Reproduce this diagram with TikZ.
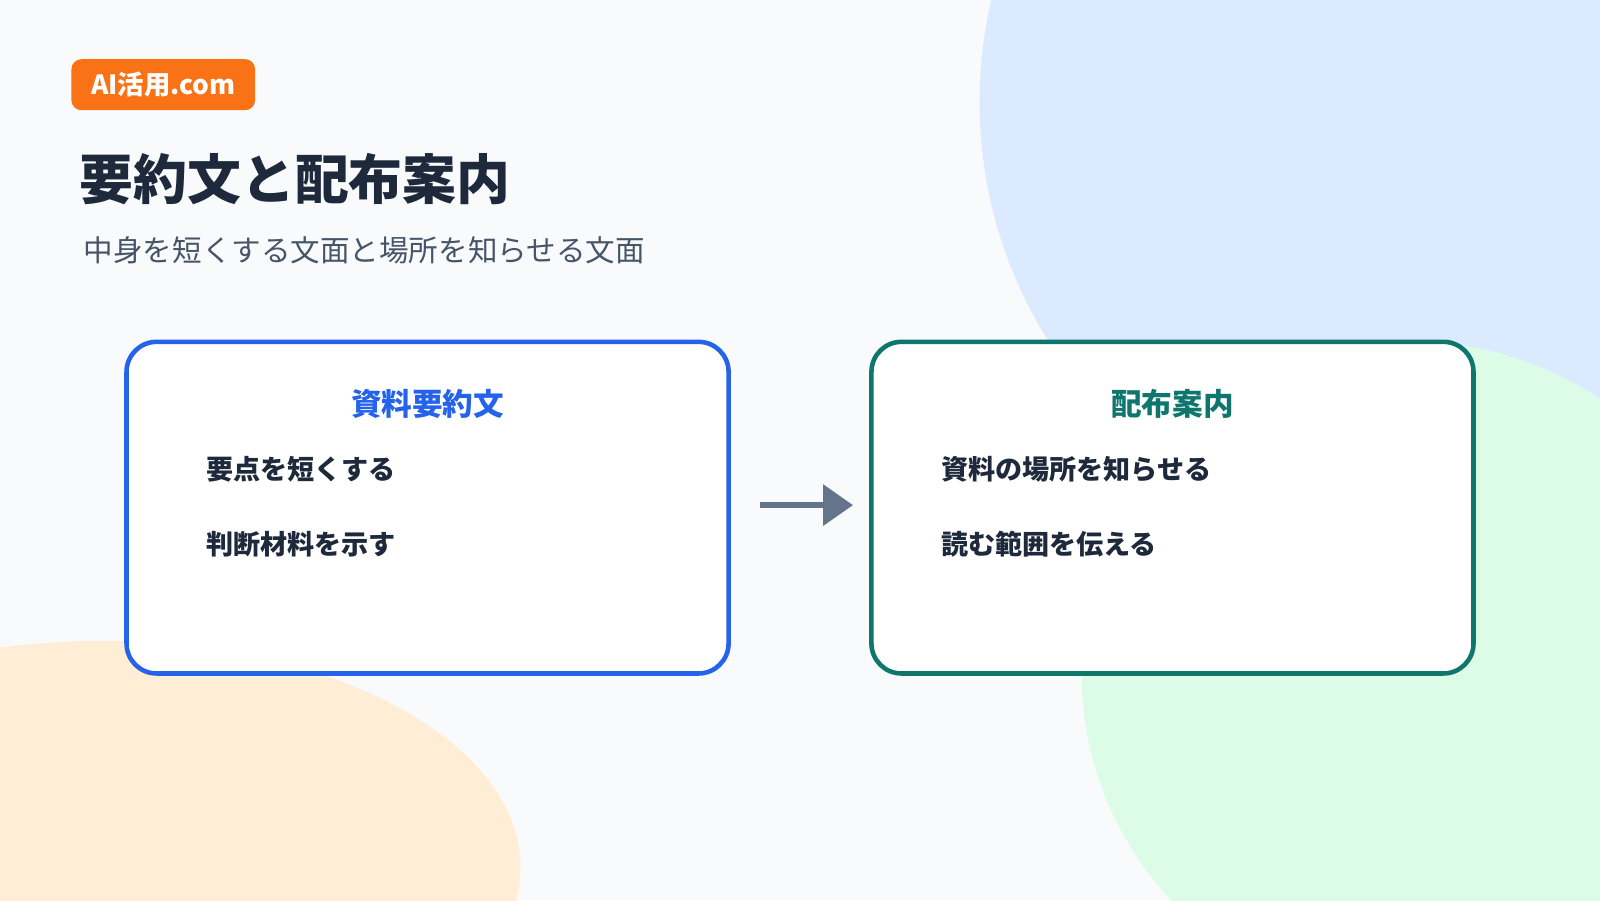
\documentclass[tikz,border=0pt]{standalone}
\usepackage{fontspec}
\setmainfont{Noto Sans CJK JP}
\usepackage{xcolor}
\usetikzlibrary{arrows.meta,positioning}
\definecolor{bgpaper}{HTML}{F8FAFC}
\definecolor{blobblue}{HTML}{DBEAFE}
\definecolor{blobgreen}{HTML}{DCFCE7}
\definecolor{blobpeach}{HTML}{FFEDD5}
\definecolor{badgeorange}{HTML}{F97316}
\definecolor{inkdark}{HTML}{1E293B}
\definecolor{inkgray}{HTML}{475569}
\definecolor{boxblue}{HTML}{2563EB}
\definecolor{boxteal}{HTML}{0F766E}
\definecolor{arrowgray}{HTML}{64748B}
\tikzset{
    card/.style={draw=#1, line width=1.3pt, fill=white, rounded corners=0.3cm},
    cardtitle/.style={font=\fontsize{8.7}{10}\selectfont\bfseries, text=#1},
    carditem/.style={font=\fontsize{7.7}{9}\selectfont\bfseries, text=inkdark, anchor=west}
}
\begin{document}
\begin{tikzpicture}[x=0.0102cm, y=-0.0102cm]

% background and blobs
\fill[bgpaper] (0,0) rectangle (1568,882);
\useasboundingbox (0,0) rectangle (1568,882);
\begin{scope}
    \clip (0,0) rectangle (1568,882);
    \fill[blobblue] (1400,100) circle (440);
    \fill[blobgreen] (1385,660) circle (325);
    \fill[blobpeach] (100,850) ellipse (410 and 222);
\end{scope}

% header
\node[fill=badgeorange, rounded corners=0.1cm, text=white, font=\fontsize{7.5}{9}\selectfont\bfseries,
    minimum width=180*0.0102cm, minimum height=50*0.0102cm] (badge) at (160,83) {AI活用.com};
\node[anchor=west, text=inkdark, font=\fontsize{15.3}{18}\selectfont\bfseries] (title) at (66,176) {要約文と配布案内};
\node[anchor=west, text=inkgray, font=\fontsize{8.4}{10}\selectfont] (subtitle) at (70,245) {中身を短くする文面と場所を知らせる文面};

% cards
\draw[card=boxblue] (124,335) rectangle (714,660);
\node[cardtitle=boxblue] (sumhead) at (419,396) {資料要約文};
\node[carditem] (sumone) at (190,460) {要点を短くする};
\node[carditem] (sumtwo) at (190,533) {判断材料を示す};

\draw[card=boxteal] (854,335) rectangle (1444,660);
\node[cardtitle=boxteal] (disthead) at (1149,396) {配布案内};
\node[carditem] (distone) at (910,460) {資料の場所を知らせる};
\node[carditem] (disttwo) at (910,533) {読む範囲を伝える};

% arrow
\coordinate (leftcard) at (745,495);
\coordinate (rightcard) at (836,495);
\draw[arrowgray, line width=1.8pt, -{Triangle[length=0.3cm, width=0.4cm]}] (leftcard) -- (rightcard);

\end{tikzpicture}
\end{document}
